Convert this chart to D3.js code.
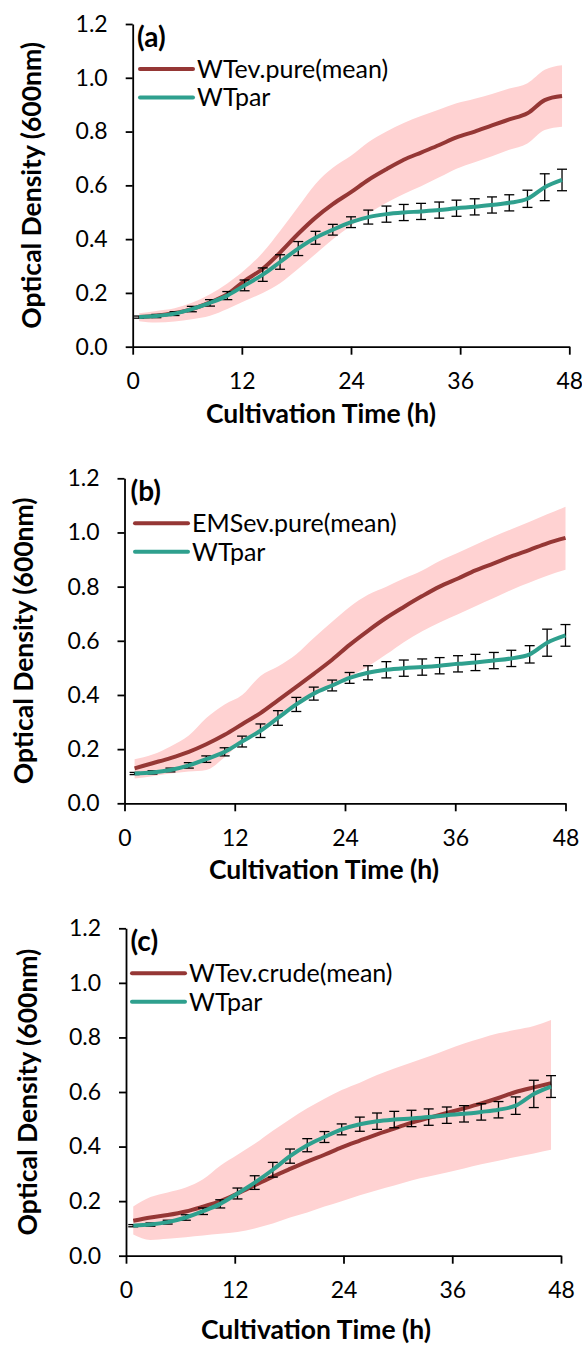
<!DOCTYPE html>
<html>
<head>
<meta charset="utf-8">
<script src="https://cdn.jsdelivr.net/npm/d3@7"></script>
<style>
  body { margin: 0; background: #fff; }
  svg { display: block; font-family: Lato, "Open Sans", sans-serif; }
</style>
</head>
<body>
<svg width="582" height="1345"></svg>
<script>
// sampling times (h) for each panel
var timeA = [0.7, 2.6, 4.6, 6.5, 8.5, 10.4, 12.3, 14.3, 16.2, 18.2, 20.1, 22.0, 24.0, 25.9, 27.9, 29.8, 31.7, 33.7, 35.6, 37.6, 39.5, 41.4, 43.4, 45.3, 47.2];
var timeB = [1.1, 3.05, 5.0, 7.0, 8.9, 10.9, 12.8, 14.8, 16.7, 18.7, 20.6, 22.6, 24.5, 26.5, 28.5, 30.4, 32.4, 34.3, 36.3, 38.2, 40.2, 42.1, 44.1, 46.0, 48.0];
var timeC = [0.8, 2.7, 4.6, 6.6, 8.5, 10.4, 12.3, 14.2, 16.2, 18.1, 20.0, 21.9, 23.8, 25.8, 27.7, 29.6, 31.5, 33.4, 35.4, 37.3, 39.2, 41.1, 43.0, 45.0, 46.9];

// parent strain, mean and error
var wtparOD = [0.11, 0.114, 0.123, 0.14, 0.163, 0.19, 0.228, 0.268, 0.315, 0.365, 0.405, 0.435, 0.463, 0.482, 0.493, 0.499, 0.503, 0.508, 0.515, 0.52, 0.527, 0.535, 0.55, 0.593, 0.62];
var wtparErr = [0.004, 0.006, 0.007, 0.01, 0.012, 0.015, 0.02, 0.025, 0.027, 0.026, 0.024, 0.02, 0.02, 0.026, 0.03, 0.03, 0.03, 0.03, 0.03, 0.03, 0.03, 0.03, 0.032, 0.05, 0.04];

// (a) WTev.pure
var wtPureMean = [0.11, 0.115, 0.125, 0.14, 0.165, 0.195, 0.245, 0.29, 0.35, 0.42, 0.48, 0.53, 0.575, 0.62, 0.66, 0.695, 0.722, 0.75, 0.778, 0.80, 0.823, 0.845, 0.868, 0.917, 0.932];
var wtPureHigh = [0.124, 0.133, 0.143, 0.163, 0.195, 0.235, 0.285, 0.35, 0.43, 0.52, 0.605, 0.665, 0.71, 0.76, 0.80, 0.832, 0.858, 0.882, 0.905, 0.922, 0.94, 0.96, 0.98, 1.03, 1.047];
var wtPureLow = [0.095, 0.09, 0.094, 0.102, 0.115, 0.14, 0.17, 0.2, 0.236, 0.29, 0.345, 0.4, 0.45, 0.495, 0.535, 0.568, 0.597, 0.63, 0.662, 0.686, 0.708, 0.732, 0.756, 0.806, 0.818];

// (b) EMSev.pure
var emsPureMean = [0.129, 0.148, 0.167, 0.19, 0.218, 0.253, 0.292, 0.333, 0.38, 0.43, 0.478, 0.53, 0.585, 0.637, 0.685, 0.725, 0.765, 0.80, 0.83, 0.86, 0.886, 0.912, 0.936, 0.96, 0.98];
var emsPureHigh = [0.163, 0.18, 0.21, 0.25, 0.315, 0.365, 0.40, 0.47, 0.505, 0.55, 0.61, 0.67, 0.725, 0.77, 0.80, 0.83, 0.86, 0.895, 0.925, 0.955, 0.985, 1.012, 1.04, 1.067, 1.095];
var emsPureLow = [0.092, 0.10, 0.11, 0.117, 0.123, 0.17, 0.228, 0.265, 0.313, 0.358, 0.398, 0.435, 0.468, 0.505, 0.55, 0.595, 0.635, 0.668, 0.698, 0.728, 0.758, 0.788, 0.815, 0.84, 0.862];

// (c) WTev.crude
var wtCrudeMean = [0.128, 0.14, 0.149, 0.162, 0.18, 0.2, 0.228, 0.258, 0.29, 0.318, 0.345, 0.37, 0.397, 0.422, 0.445, 0.466, 0.488, 0.505, 0.523, 0.54, 0.558, 0.578, 0.6, 0.617, 0.632];
var wtCrudeHigh = [0.18, 0.215, 0.232, 0.25, 0.28, 0.33, 0.37, 0.41, 0.458, 0.50, 0.54, 0.575, 0.607, 0.634, 0.662, 0.686, 0.708, 0.73, 0.755, 0.778, 0.797, 0.815, 0.828, 0.842, 0.864];
var wtCrudeLow = [0.078, 0.058, 0.062, 0.068, 0.074, 0.08, 0.087, 0.1, 0.118, 0.14, 0.158, 0.18, 0.2, 0.222, 0.24, 0.257, 0.276, 0.29, 0.305, 0.32, 0.335, 0.348, 0.362, 0.375, 0.388];

var xTicks = [0, 12, 24, 36, 48];
var yTicks = [0, 0.2, 0.4, 0.6, 0.8, 1.0, 1.2];

var red = "#953735", teal = "#2fa08e", pink = "#ffd2d2";

var panels = [
  { tag: "(a)", name: "WTev.pure(mean)", t: timeA, mean: wtPureMean, hi: wtPureHigh, lo: wtPureLow,
    left: 132.7, right: 569.3, top: 24, bottom: 346.7, yTitleX: 41, xTitleX: 321, xTitleY: 423,
    tagX: 137, legX: 140, legW: 53, legTextX: 197 },
  { tag: "(b)", name: "EMSev.pure(mean)", t: timeB, mean: emsPureMean, hi: emsPureHigh, lo: emsPureLow,
    left: 124.5, right: 565.5, top: 478.3, bottom: 803.3, yTitleX: 33, xTitleX: 324, xTitleY: 879,
    tagX: 130.5, legX: 135, legW: 53, legTextX: 192 },
  { tag: "(c)", name: "WTev.crude(mean)", t: timeC, mean: wtCrudeMean, hi: wtCrudeHigh, lo: wtCrudeLow,
    left: 126, right: 561, top: 928.3, bottom: 1255.7, yTitleX: 37, xTitleX: 316, xTitleY: 1339,
    tagX: 130.5, legX: 132, legW: 53, legTextX: 189 }
];

var svg = d3.select("svg");
svg.append("rect").attr("width", 582).attr("height", 1345).attr("fill", "#fff");

panels.forEach(function(p) {
  var x = d3.scaleLinear().domain([0, 48]).range([p.left, p.right]);
  var y = d3.scaleLinear().domain([0, 1.2]).range([p.bottom, p.top]);
  var idx = d3.range(p.t.length);
  var g = svg.append("g");

  // pink range band
  g.append("path")
    .datum(idx)
    .attr("fill", pink)
    .attr("d", d3.area()
      .x(function(i) { return x(p.t[i]); })
      .y0(function(i) { return y(p.lo[i]); })
      .y1(function(i) { return y(p.hi[i]); })
      .curve(d3.curveMonotoneX));

  // evolved mean line
  g.append("path")
    .datum(idx)
    .attr("fill", "none")
    .attr("stroke", red)
    .attr("stroke-width", 4)
    .attr("d", d3.line()
      .x(function(i) { return x(p.t[i]); })
      .y(function(i) { return y(p.mean[i]); })
      .curve(d3.curveMonotoneX));

  // WTpar error bars
  var eb = g.append("g").attr("stroke", "#000").attr("stroke-width", 1.3);
  idx.forEach(function(i) {
    var cx = x(p.t[i]), y1 = y(wtparOD[i] + wtparErr[i]), y2 = y(wtparOD[i] - wtparErr[i]);
    eb.append("line").attr("x1", cx).attr("x2", cx).attr("y1", y1).attr("y2", y2);
    eb.append("line").attr("x1", cx - 5).attr("x2", cx + 5).attr("y1", y1).attr("y2", y1);
    eb.append("line").attr("x1", cx - 5).attr("x2", cx + 5).attr("y1", y2).attr("y2", y2);
  });

  // WTpar line
  g.append("path")
    .datum(idx)
    .attr("fill", "none")
    .attr("stroke", teal)
    .attr("stroke-width", 4)
    .attr("d", d3.line()
      .x(function(i) { return x(p.t[i]); })
      .y(function(i) { return y(wtparOD[i]); })
      .curve(d3.curveMonotoneX));

  // axes
  var ya = g.append("g")
    .attr("transform", "translate(" + p.left + ",0)")
    .call(d3.axisLeft(y).tickValues(yTicks).tickFormat(d3.format(".1f")).tickSize(7).tickSizeOuter(0).tickPadding(18));
  var xa = g.append("g")
    .attr("transform", "translate(0," + p.bottom + ")")
    .call(d3.axisBottom(x).tickValues(xTicks).tickSize(8).tickSizeOuter(0).tickPadding(18));
  [ya, xa].forEach(function(a) {
    a.selectAll("path, line").attr("stroke", "#000").attr("stroke-width", 1.8);
    a.selectAll("text").attr("fill", "#000").style("font-size", "23px").style("font-family", "Lato, 'Open Sans', sans-serif");
  });

  // axis titles
  g.append("text")
    .attr("transform", "translate(" + p.yTitleX + "," + (p.top + p.bottom) / 2 + ")rotate(-90)")
    .attr("text-anchor", "middle")
    .style("font-size", "26.5px")
    .style("font-weight", "bold")
    .text("Optical Density (600nm)");
  g.append("text")
    .attr("x", p.xTitleX)
    .attr("y", p.xTitleY)
    .attr("text-anchor", "middle")
    .style("font-size", "26.5px")
    .style("font-weight", "bold")
    .text("Cultivation Time (h)");

  // panel tag
  g.append("text")
    .attr("x", p.tagX)
    .attr("y", p.top + 23)
    .style("font-size", "28px")
    .style("font-weight", "bold")
    .text(p.tag);

  // legend
  var legend = [{ label: p.name, color: red }, { label: "WTpar", color: teal }];
  legend.forEach(function(d, k) {
    var ly = p.top + 45 + k * 28.5;
    g.append("line")
      .attr("x1", p.legX).attr("x2", p.legX + p.legW)
      .attr("y1", ly).attr("y2", ly)
      .attr("stroke", d.color).attr("stroke-width", 4).attr("stroke-linecap", "round");
    g.append("text")
      .attr("x", p.legTextX)
      .attr("y", ly)
      .attr("dy", "0.35em")
      .style("font-size", "25px")
      .text(d.label);
  });
});
</script>
</body>
</html>
